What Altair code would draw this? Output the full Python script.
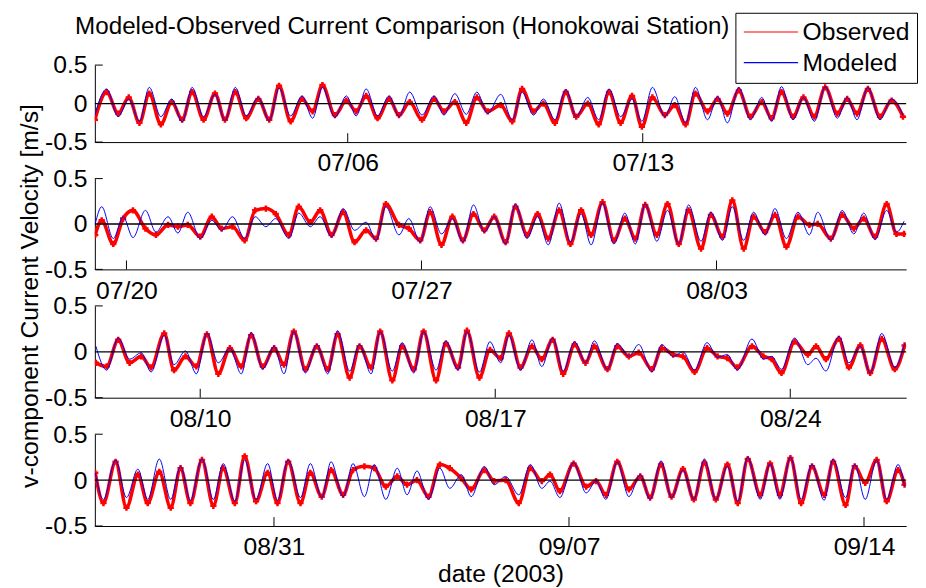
import altair as alt
import pandas as pd

TITLE = "Modeled-Observed Current Comparison (Honokowai Station)"
Y_TITLE = "v-component Current Velocity [m/s]"
X_TITLE = "date (2003)"
SERIES = ["Observed", "Modeled"]
COLORS = ["#ff0000", "#0000ff"]
FONT = "Liberation Sans"

PANEL_START = ["2003-06-30 00:00", "2003-07-19 06:00", "2003-08-07 12:00", "2003-08-26 18:00"]
PANEL_END = ["2003-07-19 06:00", "2003-08-07 12:00", "2003-08-26 18:00", "2003-09-15 00:00"]
X_TICKS = [
    ["2003-07-06", "2003-07-13"],
    ["2003-07-20", "2003-07-27", "2003-08-03"],
    ["2003-08-10", "2003-08-17", "2003-08-24"],
    ["2003-08-31", "2003-09-07", "2003-09-14"],
]
Y_TICKS = [-0.5, 0, 0.5]

# hours since panel start of the read-off turning points, and the values there
P1_HOURS = [0, 6.7, 13.3, 19.3, 25.4, 31, 37.6, 43.8, 49.7, 55.4, 61.9, 68.4, 74.1, 80, 86.2, 93.1, 99.3, 104.9,
            111.5, 118, 124, 129.6, 136.7, 143.2, 148.8, 154.5, 161, 167.6, 173.2, 179.3, 186.3, 193.2, 198.8, 205,
            211.5, 217.5, 223.7, 231.1, 237.7, 243.3, 249.8, 255.4, 262, 268.2, 274.1, 280.7, 286.9, 292.8, 299.4,
            305.9, 311.5, 317.5, 324.6, 330.2, 336.4, 342, 348.9, 354.6, 360.2, 366.7, 373.3, 379.8, 385.4, 391,
            397.6, 403.5, 409.7, 415.9, 422.8, 428.4, 434, 440.2, 447.1, 453.7, 460.2]
P1_MOD = [-0.15, 0.19, -0.17, 0.06, -0.23, 0.21, -0.17, 0.06, -0.24, 0.21, -0.17, 0.12, -0.22, 0.21, -0.16, 0.08,
          -0.22, 0.2, -0.16, 0.1, -0.19, 0.21, -0.18, 0.1, -0.16, 0.19, -0.16, 0.1, -0.17, 0.15, -0.15, 0.1, -0.15,
          0.13, -0.14, 0.15, -0.13, 0.12, -0.21, 0.15, -0.15, 0.06, -0.21, 0.18, -0.17, 0.08, -0.21, 0.19, -0.17,
          0.06, -0.23, 0.21, -0.17, 0.09, -0.25, 0.21, -0.21, 0.09, -0.25, 0.21, -0.21, 0.08, -0.23, 0.22, -0.21,
          0.08, -0.23, 0.22, -0.19, 0.08, -0.21, 0.21, -0.21, 0.06, -0.15]
P1_OBS = [-0.21, 0.15, -0.13, 0.08, -0.25, 0.13, -0.27, 0.02, -0.21, 0.15, -0.21, 0.13, -0.21, 0.15, -0.19, 0.06,
          -0.21, 0.23, -0.23, 0.06, -0.1, 0.24, -0.15, 0.04, -0.1, 0.1, -0.19, 0.06, -0.15, 0.02, -0.21, 0.06, -0.1,
          0.02, -0.25, 0.08, -0.1, -0.02, -0.23, 0.19, -0.1, 0.0, -0.25, 0.15, -0.17, 0.0, -0.27, 0.15, -0.25, 0.1,
          -0.3, 0.08, -0.15, -0.02, -0.27, 0.13, -0.1, 0.06, -0.13, 0.17, -0.17, 0.02, -0.19, 0.15, -0.17, 0.08,
          -0.17, 0.21, -0.13, 0.06, -0.13, 0.19, -0.17, 0.04, -0.17]

P2_HOURS = [0.2, 3.9, 10.5, 16.1, 21.7, 28.8, 34.8, 41.7, 47.3, 52.9, 60, 66.6, 72.2, 78.4, 85.3, 91.3, 97.4, 103,
            110.5, 116.1, 122.7, 128.3, 134.8, 141.4, 147.9, 154.5, 160.1, 165.7, 173.2, 178.8, 185.3, 190.9, 197.4,
            203.6, 209.6, 215.6, 221.8, 227.4, 233.9, 239.5, 246.1, 252.1, 258.2, 264.4, 270.8, 276.9, 282.6, 289.1,
            295.6, 301.8, 307.8, 313.4, 320, 326.1, 332.5, 338.1, 345.2, 350.8, 357.4, 363, 369.5, 375.1, 381.7,
            387.3, 393.8, 400.4, 406.9, 411.6, 419.1, 425.6, 432.2, 437.8, 444.3, 450.9, 456.5, 460.8]
P2_MOD = [0.0, 0.19, -0.16, 0.08, -0.15, 0.15, -0.09, 0.08, -0.1, 0.13, -0.16, 0.04, -0.07, 0.08, -0.16, 0.08,
          -0.03, 0.06, -0.16, 0.12, -0.03, 0.08, -0.14, 0.17, -0.07, 0.02, -0.18, 0.19, -0.12, 0.06, -0.2, 0.19,
          -0.11, 0.06, -0.2, 0.21, -0.09, 0.08, -0.22, 0.22, -0.16, 0.08, -0.23, 0.23, -0.2, 0.11, -0.23, 0.23,
          -0.22, 0.12, -0.22, 0.22, -0.19, 0.15, -0.22, 0.21, -0.19, 0.13, -0.18, 0.19, -0.18, 0.13, -0.12, 0.17,
          -0.16, 0.13, -0.12, 0.13, -0.18, 0.15, -0.11, 0.12, -0.17, 0.15, -0.09, 0.03]
P2_OBS = [-0.12, 0.04, -0.22, 0.06, 0.15, -0.05, -0.12, -0.01, -0.03, -0.01, -0.14, 0.08, -0.05, -0.03, -0.18, 0.15,
          0.17, 0.11, -0.12, 0.19, 0.02, 0.15, -0.12, 0.13, -0.2, -0.07, -0.16, 0.22, -0.01, -0.05, -0.18, 0.13,
          -0.23, 0.08, -0.18, 0.11, -0.07, 0.08, -0.2, 0.19, -0.12, 0.11, -0.16, 0.15, -0.22, 0.15, -0.12, 0.24,
          -0.18, 0.06, -0.16, 0.21, -0.12, 0.22, -0.22, 0.15, -0.27, 0.1, -0.14, 0.26, -0.27, 0.08, -0.09, 0.1,
          -0.25, 0.08, -0.01, 0.0, -0.16, 0.1, -0.05, 0.06, -0.14, 0.22, -0.11, -0.11]

P3_HOURS = [0.6, 6.7, 13.3, 19.8, 26.4, 32, 39.5, 45.1, 51.6, 57.8, 63.8, 70.3, 76.9, 83.4, 89, 95.6, 102.1, 107.7,
            113.3, 119.9, 126.4, 132.6, 138.2, 145.1, 150.7, 157.3, 162.5, 169.4, 175, 181.6, 187.2, 194.3, 199.9,
            206.8, 211.9, 219, 225, 231.1, 235.8, 242.4, 248.9, 254.5, 260.7, 266.7, 273.2, 279.4, 284.4, 291.9,
            297.5, 304.1, 309.7, 317.2, 322.8, 329.3, 334.9, 341.5, 348.6, 354.6, 360.2, 365.8, 374.2, 380.7, 385.4,
            391, 398.5, 406, 410.7, 416.3, 423.7, 429.4, 435.9, 441.5, 448.1, 455.5, 461.1]
P3_MOD = [0.06, -0.2, 0.15, -0.08, -0.01, -0.22, 0.18, -0.14, 0.01, -0.24, 0.2, -0.12, 0.04, -0.24, 0.21, -0.19,
          0.06, -0.24, 0.22, -0.23, 0.08, -0.24, 0.23, -0.21, 0.08, -0.24, 0.22, -0.21, 0.1, -0.23, 0.22, -0.2, 0.12,
          -0.2, 0.22, -0.22, 0.11, -0.12, 0.18, -0.2, 0.13, -0.16, 0.15, -0.21, 0.11, -0.12, 0.12, -0.19, 0.09,
          -0.05, 0.08, -0.22, 0.08, -0.05, 0.0, -0.2, 0.1, -0.06, -0.03, -0.2, 0.14, -0.08, -0.05, -0.19, 0.15,
          -0.14, -0.07, -0.21, 0.17, -0.12, 0.06, -0.23, 0.2, -0.17, 0.09]
P3_OBS = [-0.12, -0.16, 0.13, -0.12, -0.05, -0.17, 0.2, -0.2, -0.05, -0.16, 0.19, -0.24, 0.04, -0.16, 0.18, -0.16,
          0.04, -0.14, 0.22, -0.19, 0.06, -0.19, 0.19, -0.28, 0.06, -0.17, 0.22, -0.31, 0.06, -0.19, 0.22, -0.31,
          0.09, -0.17, 0.23, -0.28, 0.02, -0.07, 0.2, -0.17, 0.06, -0.08, 0.13, -0.24, 0.08, -0.12, 0.06, -0.19,
          0.06, -0.05, -0.01, -0.19, 0.04, -0.03, -0.05, -0.22, 0.04, -0.05, -0.07, -0.17, 0.06, -0.05, -0.08,
          -0.23, 0.11, -0.03, 0.06, -0.08, 0.14, -0.17, 0.07, -0.23, 0.14, -0.19, 0.07]

P4_HOURS = [0.2, 4.9, 11.8, 18, 24.5, 30.1, 36.7, 43.2, 48.8, 54.4, 61, 67.5, 73.1, 79.7, 85.3, 91.8, 98.4, 104,
            110.1, 117.1, 122.7, 129.2, 134.5, 141.4, 147, 153.5, 159.1, 165.7, 172.2, 177.8, 183.4, 190, 196.5,
            202.1, 208.7, 214.3, 221.8, 227.4, 233.9, 241.4, 248, 254.5, 259.2, 264.8, 272.6, 279.8, 285.4, 291,
            297.5, 304.1, 310.6, 316.2, 322.4, 328.4, 334.9, 341.1, 347.1, 353.6, 360.2, 366.1, 371.8, 378.9, 384.5,
            390.1, 396.1, 402.2, 408.4, 415.3, 420.4, 427.5, 432.7, 438.7, 445.2, 450.9, 457.4, 461.1]
P4_MOD = [0.08, -0.21, 0.22, -0.19, 0.12, -0.21, 0.23, -0.21, 0.15, -0.22, 0.23, -0.21, 0.18, -0.23, 0.22, -0.21,
          0.18, -0.22, 0.22, -0.19, 0.18, -0.19, 0.2, -0.18, 0.18, -0.18, 0.17, -0.21, 0.13, -0.16, 0.1, -0.21, 0.13,
          -0.09, 0.06, -0.18, 0.15, -0.05, 0.04, -0.16, 0.17, -0.09, -0.01, -0.19, 0.19, -0.14, -0.01, -0.21, 0.2,
          -0.18, 0.06, -0.21, 0.21, -0.19, 0.11, -0.21, 0.23, -0.21, 0.15, -0.23, 0.25, -0.21, 0.18, -0.21, 0.25,
          -0.21, 0.17, -0.22, 0.23, -0.19, 0.17, -0.21, 0.22, -0.21, 0.17, -0.07]
P4_OBS = [0.08, -0.25, 0.2, -0.3, 0.06, -0.25, 0.09, -0.3, 0.13, -0.25, 0.22, -0.28, 0.13, -0.25, 0.26, -0.23, 0.08,
          -0.25, 0.2, -0.25, 0.08, -0.18, 0.11, -0.16, 0.11, 0.15, 0.13, -0.07, 0.04, -0.05, 0.0, -0.18, 0.17, 0.13,
          0.02, -0.1, 0.11, -0.01, 0.0, -0.25, 0.13, -0.01, 0.06, -0.12, 0.18, -0.07, -0.01, -0.16, 0.2, -0.1, 0.04,
          -0.19, 0.17, -0.18, 0.12, -0.21, 0.19, -0.21, 0.17, -0.25, 0.23, -0.16, 0.18, -0.16, 0.24, -0.25, 0.15,
          -0.16, 0.2, -0.27, 0.15, -0.03, 0.22, -0.23, 0.11, -0.05]

PANELS = [(P1_HOURS, P1_OBS, P1_MOD), (P2_HOURS, P2_OBS, P2_MOD),
          (P3_HOURS, P3_OBS, P3_MOD), (P4_HOURS, P4_OBS, P4_MOD)]
HEIGHTS = [78, 92, 93, 93]
WIDTH = 822
SPACING = 37
FS = 25


def dt(s):
    ts = pd.Timestamp(s)
    return alt.DateTime(year=ts.year, month=ts.month, date=ts.day, hours=ts.hour, minutes=ts.minute)


LABEL_EXPR = ("datum.value == 0 ? '0' : (datum.value < 0 ? '-' + format(-datum.value, '.1f') "
              ": format(datum.value, '.1f'))")

panels = []
for i, (hours, obs, mod) in enumerate(PANELS):
    h = HEIGHTS[i]
    times = pd.Timestamp(PANEL_START[i]) + pd.to_timedelta(hours, unit="h")
    n = len(hours)
    df = pd.DataFrame({
        "t": list(times) + list(times),
        "v": list(obs) + list(mod),
        "series": ["Observed"] * n + ["Modeled"] * n,
    })
    xs = alt.Scale(domain=[dt(PANEL_START[i]), dt(PANEL_END[i])], nice=False)
    ys = alt.Scale(domain=[-0.5, 0.5], nice=False, zero=False)

    xaxis_kw = dict(values=[dt(v) for v in X_TICKS[i]], format="%m/%d", labelPadding=9,
                    labelFlush=False, labelOverlap=False, title=None)
    if i == 3:
        xaxis_kw.update(title=X_TITLE, titlePadding=2)
    yaxis_kw = dict(values=Y_TICKS, labelExpr=LABEL_EXPR, labelPadding=8, labelFlush=False,
                    labelOverlap=False, title=None)
    if i == 1:
        total = sum(HEIGHTS) + 3 * SPACING
        yaxis_kw.update(title=Y_TITLE, titleX=-58, titleY=total / 2 - (HEIGHTS[0] + SPACING),
                        titleAngle=270, titleAlign="center", titleBaseline="alphabetic")

    X = alt.X("t:T", scale=xs, axis=alt.Axis(**xaxis_kw))
    Y = alt.Y("v:Q", scale=ys, axis=alt.Axis(**yaxis_kw))

    if i == 0:
        legend = alt.Legend(title=None, orient="none", legendX=649, legendY=-53, direction="vertical",
                            fillColor="white", strokeColor="black", padding=7, cornerRadius=0,
                            symbolType="M-1,0H4", symbolSize=484, symbolStrokeWidth=1.2,
                            labelFont=FONT, labelFontSize=FS, labelColor="black", labelOffset=36,
                            rowPadding=5)
    else:
        legend = None
    color = alt.Color("series:N", scale=alt.Scale(domain=SERIES, range=COLORS), legend=legend)

    obs_line = alt.Chart(df).transform_filter("datum.series == 'Observed'").mark_line(
        interpolate="monotone", strokeWidth=3.6, clip=True).encode(x=X, y=Y, color=color)
    obs_pts = alt.Chart(df).transform_filter("datum.series == 'Observed'").mark_point(
        shape="cross", filled=True, size=40, color="#ff0000", opacity=1, clip=True).encode(x=X, y=Y)
    mod_line = alt.Chart(df).transform_filter("datum.series == 'Modeled'").mark_line(
        interpolate="monotone", strokeWidth=1, clip=True).encode(x=X, y=Y, color=color)
    zero = alt.Chart(pd.DataFrame({"v": [0]})).mark_rule(color="black", strokeWidth=1.3).encode(y=Y)
    yticks = alt.Chart(pd.DataFrame({"v": [Y_TICKS[0], Y_TICKS[-1]]})).mark_rule(color="black").encode(
        y=Y, x=alt.value(0), x2=alt.value(8))
    xticks = alt.Chart(pd.DataFrame({"t": pd.to_datetime(X_TICKS[i])})).mark_rule(color="black").encode(
        x=X, y=alt.value(h), y2=alt.value(h - 9))

    layer = alt.layer(obs_line, obs_pts, mod_line, zero, yticks, xticks).properties(width=WIDTH, height=h)
    if i == 0:
        layer = layer.properties(title=alt.TitleParams(TITLE, anchor="start", frame="group", dx=-20, dy=32,
                                                       offset=4, font=FONT, fontSize=24.5, fontWeight="normal",
                                                       color="black"))
    panels.append(layer)

chart = alt.vconcat(*panels, spacing=SPACING, bounds="flush").resolve_scale(
    x="independent", y="independent", color="independent"
).properties(
    padding={"left": 9, "top": 0, "right": 0, "bottom": 0}
).configure(font=FONT).configure_view(stroke=None).configure_axis(
    labelFont=FONT, titleFont=FONT, labelFontSize=FS, titleFontSize=FS, labelColor="black",
    titleColor="black", titleFontWeight="normal", domainColor="black", domainWidth=1,
    grid=False, ticks=False
)

chart.save("out.html", embed_options={"renderer": "svg", "actions": False})
